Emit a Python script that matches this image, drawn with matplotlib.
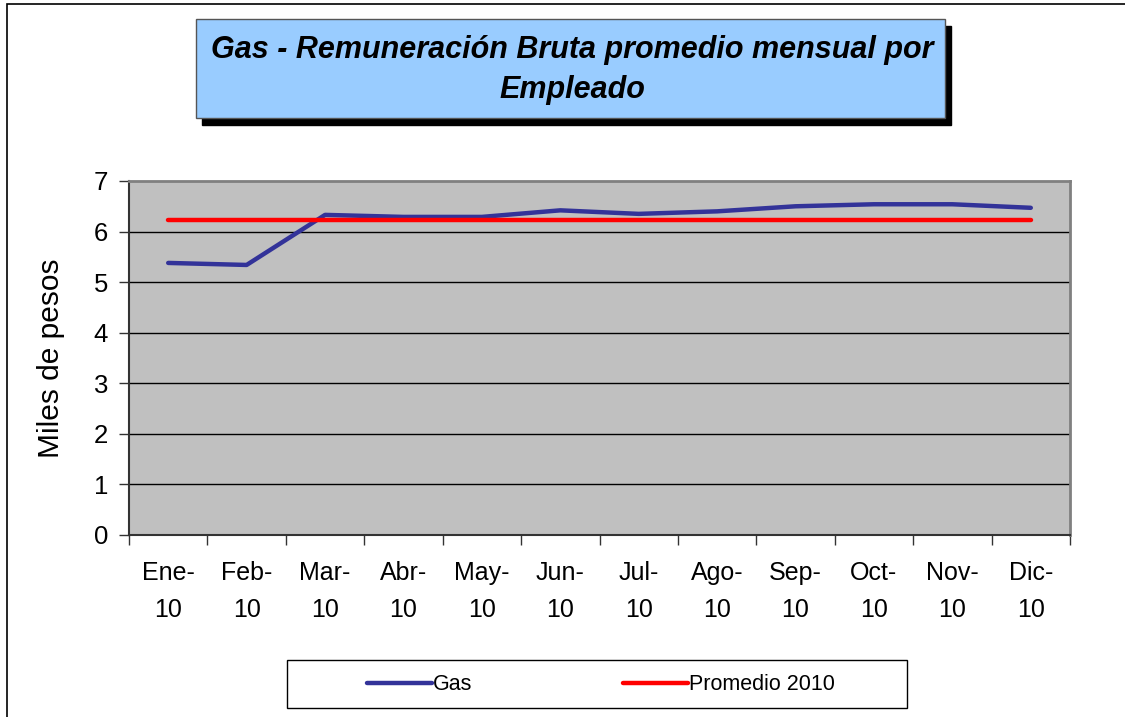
import matplotlib.pyplot as plt
from matplotlib.patches import Rectangle
from matplotlib.lines import Line2D

# data
meses = ['Ene-\n10', 'Feb-\n10', 'Mar-\n10', 'Abr-\n10', 'May-\n10', 'Jun-\n10',
         'Jul-\n10', 'Ago-\n10', 'Sep-\n10', 'Oct-\n10', 'Nov-\n10', 'Dic-\n10']
gas = [5.38, 5.34, 6.33, 6.29, 6.29, 6.42, 6.35, 6.40, 6.50, 6.54, 6.54, 6.47]
promedio_2010 = [6.23] * 12
yticks = [0, 1, 2, 3, 4, 5, 6, 7]

W, H = 1125, 717
plt.rcParams['font.family'] = ['Liberation Sans', 'DejaVu Sans']

fig = plt.figure(figsize=(W / 100, H / 100), dpi=100)
fig.patch.set_facecolor('white')

def fx(px):
    return px / W

def fy(py):
    return 1 - py / H

# outer chart border (cut off right and bottom)
fig.patches.append(Rectangle((fx(7), fy(760)), fx(1200), 756 / H, transform=fig.transFigure,
                             fill=False, edgecolor='black', linewidth=1.2))

ax = fig.add_axes([fx(129), fy(535), fx(1070) - fx(129), fy(181) - fy(535)])
ax.set_facecolor('#C0C0C0')

x = list(range(len(meses)))
ax.plot(x, gas, color='#333399', linewidth=3.2, solid_capstyle='round', zorder=3)
ax.plot(x, promedio_2010, color='#FF0000', linewidth=3.2, solid_capstyle='round', zorder=3)

ax.set_xlim(-0.5, len(meses) - 0.5)
ax.set_ylim(0, 7)
ax.set_yticks(yticks)
ax.set_yticklabels([str(v) for v in yticks], fontsize=18.5)
for v in yticks[1:-1]:
    ax.axhline(v, color='black', linewidth=1, zorder=1)

ax.set_xticks([i - 0.5 for i in range(len(meses) + 1)])
ax.set_xticklabels([])
ax.set_xticks(x, minor=True)
ax.set_xticklabels(meses, minor=True, fontsize=18, linespacing=1.65)
ax.tick_params(axis='x', which='minor', length=0, pad=19)
ax.tick_params(axis='x', which='major', direction='out', length=7, width=1, color='#333333')
ax.tick_params(axis='y', direction='out', length=7, width=1, pad=8, color='#333333')

for s in ['top', 'right']:
    ax.spines[s].set_color('#808080')
    ax.spines[s].set_linewidth(2)
for s in ['left', 'bottom']:
    ax.spines[s].set_color('#333333')
    ax.spines[s].set_linewidth(1.5)

ax.set_ylabel('Miles de pesos', fontsize=21.5)
ax.yaxis.set_label_coords((fx(65) - fx(129)) / (fx(1070) - fx(129)), 0.5)

# title box with shadow
fig.patches.append(Rectangle((fx(202), fy(125)), fx(749), 99 / H, transform=fig.transFigure,
                             facecolor='black', edgecolor='black', zorder=1))
fig.patches.append(Rectangle((fx(196), fy(118)), fx(749), 99 / H, transform=fig.transFigure,
                             facecolor='#99CCFF', edgecolor='#555555', linewidth=1, zorder=2))
fig.text(fx(572), fy(70), 'Gas - Remuneración Bruta promedio mensual por\nEmpleado',
         ha='center', va='center', fontsize=22, fontweight='bold', fontstyle='italic',
         linespacing=1.45, zorder=3)

# legend box + entries
fig.patches.append(Rectangle((fx(287), fy(708)), fx(907) - fx(287), 48 / H,
                             transform=fig.transFigure, facecolor='white',
                             edgecolor='black', linewidth=1))
handles = [Line2D([], [], color='#333399', linewidth=3.2, solid_capstyle='round'),
           Line2D([], [], color='#FF0000', linewidth=3.2, solid_capstyle='round')]
leg = fig.legend(handles, ['Gas', 'Promedio 2010'], ncol=2,
                 bbox_to_anchor=(fx(601), fy(685)), loc='center',
                 fontsize=15.5, handlelength=3.0, handletextpad=0.05,
                 columnspacing=7.0, frameon=False, borderaxespad=0)

fig.savefig('out.png', dpi=100)
